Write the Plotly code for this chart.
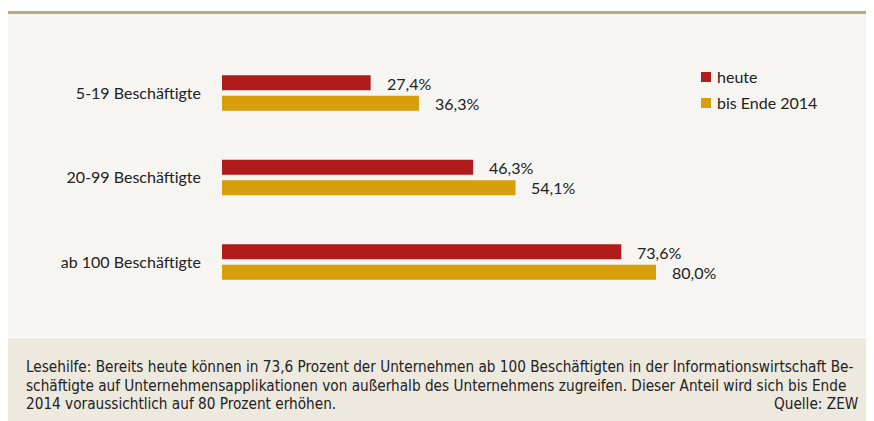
import plotly.graph_objects as go

categories = ["5-19 Beschäftigte", "20-99 Beschäftigte", "ab 100 Beschäftigte"]
series_names = ["heute", "bis Ende 2014"]
heute = [27.4, 46.3, 73.6]
bis_2014 = [36.3, 54.1, 80.0]
colors = ["#b01b1b", "#d59e0a"]
footer_lines = [
    "Lesehilfe: Bereits heute können in 73,6 Prozent der Unternehmen ab 100 Beschäftigten in der Informationswirtschaft Be-",
    "schäftigte auf Unternehmensapplikationen von außerhalb des Unternehmens zugreifen. Dieser Anteil wird sich bis Ende",
    "2014 voraussichtlich auf 80 Prozent erhöhen.",
]
source = "Quelle: ZEW"

# page body has an 8px margin: shift all drawing by it
OFF = 8
W, H = 874 - OFF, 421 - OFF
FONT = "Lato, 'Open Sans', sans-serif"
TXT = "#222222"

def px(x):
    return max(0.0, min(1.0, (x - OFF) / W))

def py(y):
    return max(0.0, min(1.0, 1 - (y - OFF) / H))

fig = go.Figure()
for name, vals, col in zip(series_names, [heute, bis_2014], colors):
    fig.add_trace(go.Bar(
        y=categories, x=vals, name=name, orientation="h",
        marker=dict(color=col, line=dict(width=0)),
        showlegend=False,
    ))

annos = []
for vals, ys in [(heute, -10), (bis_2014, 10)]:
    for c, v in zip(categories, vals):
        annos.append(dict(
            x=v, y=c, xref="x", yref="y", text=f"{v:.1f}".replace(".", ",") + "%",
            showarrow=False, xanchor="left", yanchor="middle", xshift=14, yshift=-ys,
            font=dict(family=FONT, size=16, color=TXT),
        ))

shapes = [
    dict(type="rect", xref="paper", yref="paper", x0=px(5), x1=1, y0=py(337), y1=py(14),
         fillcolor="#f7f5f1", line=dict(width=0), layer="below"),
    dict(type="rect", xref="paper", yref="paper", x0=px(5), x1=1, y0=0, y1=py(338),
         fillcolor="#ede9df", line=dict(width=0), layer="below"),
    dict(type="rect", xref="paper", yref="paper", x0=px(5), x1=1, y0=py(14), y1=py(11),
         fillcolor="#b8ab82", line=dict(width=0), layer="below"),
]
for k, (name, col) in enumerate(zip(series_names, colors)):
    yc = 77 + k * 26
    shapes.append(dict(type="rect", xref="paper", yref="paper", x0=px(701), x1=px(711),
                       y0=py(yc + 5), y1=py(yc - 5), fillcolor=col, line=dict(width=0)))
    annos.append(dict(x=px(715), y=py(yc), xref="paper", yref="paper", text=name,
                      showarrow=False, xanchor="left", yanchor="middle",
                      font=dict(family=FONT, size=16, color=TXT)))

FFONT = "'DejaVu Sans Condensed', 'Liberation Sans Narrow', 'Liberation Sans', sans-serif"
for k, line in enumerate(footer_lines):
    annos.append(dict(x=px(24), y=py(367 + k * 18.5), xref="paper", yref="paper", text=line,
                      showarrow=False, xanchor="left", yanchor="middle",
                      font=dict(family=FFONT, size=15.2, color=TXT)))
annos.append(dict(x=px(861), y=py(404), xref="paper", yref="paper", text=source,
                  showarrow=False, xanchor="right", yanchor="middle",
                  font=dict(family=FFONT, size=15.2, color=TXT)))

x0p = 222
scale = (656 - 222) / 80.0
fig.update_layout(
    width=W, height=H, margin=dict(l=0, r=0, t=0, b=0),
    paper_bgcolor="white", plot_bgcolor="rgba(0,0,0,0)",
    barmode="group", bargap=0.515, bargroupgap=0.27,
    separators=",.",
    xaxis=dict(domain=[px(x0p), px(x0p + scale * 100)], range=[0, 100],
               visible=False, showgrid=False, zeroline=False, fixedrange=True),
    yaxis=dict(domain=[py(304.25), py(50.75)], range=[2.5, -0.5], type="category",
               showgrid=False, zeroline=False, showline=False, ticks="",
               ticklabelstandoff=20,
               tickfont=dict(family=FONT, size=16, color=TXT)),
    shapes=shapes, annotations=annos,
)
fig.write_html("out.html")
